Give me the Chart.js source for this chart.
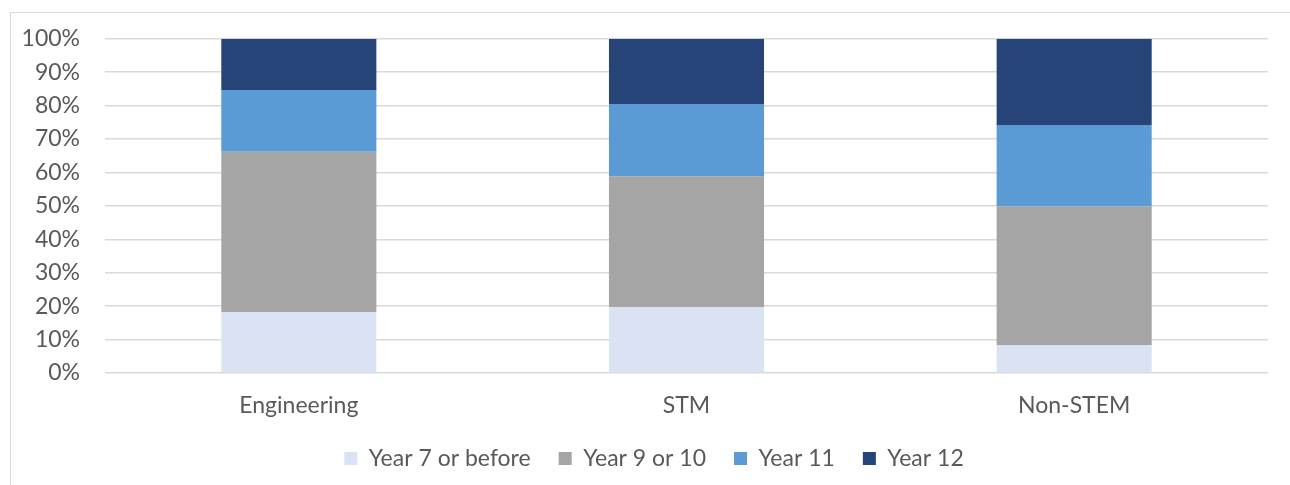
<!DOCTYPE html>
<html lang="en">
<head>
    <meta charset="UTF-8">
    <title>Year of decision</title>
    <script src="https://cdn.jsdelivr.net/npm/chart.js"></script>
    <style>
        html, body {
            margin: 0;
            padding: 0;
            background: #ffffff;
            overflow: hidden;
        }
        .frame {
            position: absolute;
            left: 10px;
            top: 12px;
            width: 1400px;
            height: 600px;
            border: 1px solid #d9d9d9;
        }
        .wrap {
            position: absolute;
            left: 0;
            top: 0;
            width: 1290px;
            height: 485px;
        }
    </style>
</head>
<body>
    <div class="frame"></div>
    <div class="wrap">
        <canvas id="chart" width="1290" height="485"></canvas>
    </div>
    <script>
        // categories and series (percent of each group)
        const categories = ['Engineering', 'STM', 'Non-STEM'];
        const year7OrBefore = [18.2, 19.7, 8.4];
        const year9Or10 = [48.0, 39.2, 41.4];
        const year11 = [18.5, 21.6, 24.4];
        const year12 = [15.3, 19.5, 25.8];
        const yTicks = [0, 10, 20, 30, 40, 50, 60, 70, 80, 90, 100];

        const textColor = '#595959';
        const fontFamily = 'Lato, sans-serif';
        const fontSize = 23;

        // the legend sits a little right of the canvas centre in the original
        const legendShift = {
            id: 'legendShift',
            afterLayout(chart) {
                if (chart.legend) {
                    chart.legend.left += 40;
                }
            }
        };

        const ctx = document.getElementById('chart').getContext('2d');
        new Chart(ctx, {
            type: 'bar',
            data: {
                labels: categories,
                datasets: [
                    { label: 'Year 7 or before', data: year7OrBefore, backgroundColor: '#dae3f3' },
                    { label: 'Year 9 or 10', data: year9Or10, backgroundColor: '#a5a5a5' },
                    { label: 'Year 11', data: year11, backgroundColor: '#5b9bd5' },
                    { label: 'Year 12', data: year12, backgroundColor: '#264478' }
                ]
            },
            plugins: [legendShift],
            options: {
                responsive: false,
                animation: false,
                categoryPercentage: 1.0,
                barPercentage: 0.4,
                layout: {
                    padding: { left: 0, right: 22, top: 30, bottom: 5 }
                },
                plugins: {
                    tooltip: { enabled: false },
                    legend: {
                        position: 'bottom',
                        labels: {
                            color: textColor,
                            font: { family: fontFamily, size: fontSize },
                            boxWidth: 13,
                            boxHeight: 13,
                            padding: 28
                        }
                    }
                },
                scales: {
                    x: {
                        stacked: true,
                        grid: { display: false, drawTicks: false },
                        border: { display: false },
                        afterFit: function (axis) {
                            axis.height = 46;
                        },
                        ticks: {
                            color: textColor,
                            font: { family: fontFamily, size: fontSize },
                            padding: 19
                        }
                    },
                    y: {
                        stacked: true,
                        min: 0,
                        max: 100,
                        afterBuildTicks: function (axis) {
                            axis.ticks = yTicks.map(v => ({ value: v }));
                        },
                        afterFit: function (axis) {
                            axis.width = 105;
                        },
                        grid: { color: '#d9d9d9', lineWidth: 1.5, drawTicks: false },
                        border: { display: false },
                        ticks: {
                            color: textColor,
                            font: { family: fontFamily, size: fontSize },
                            padding: 25,
                            callback: v => v + '%'
                        }
                    }
                }
            }
        });
    </script>
</body>
</html>
